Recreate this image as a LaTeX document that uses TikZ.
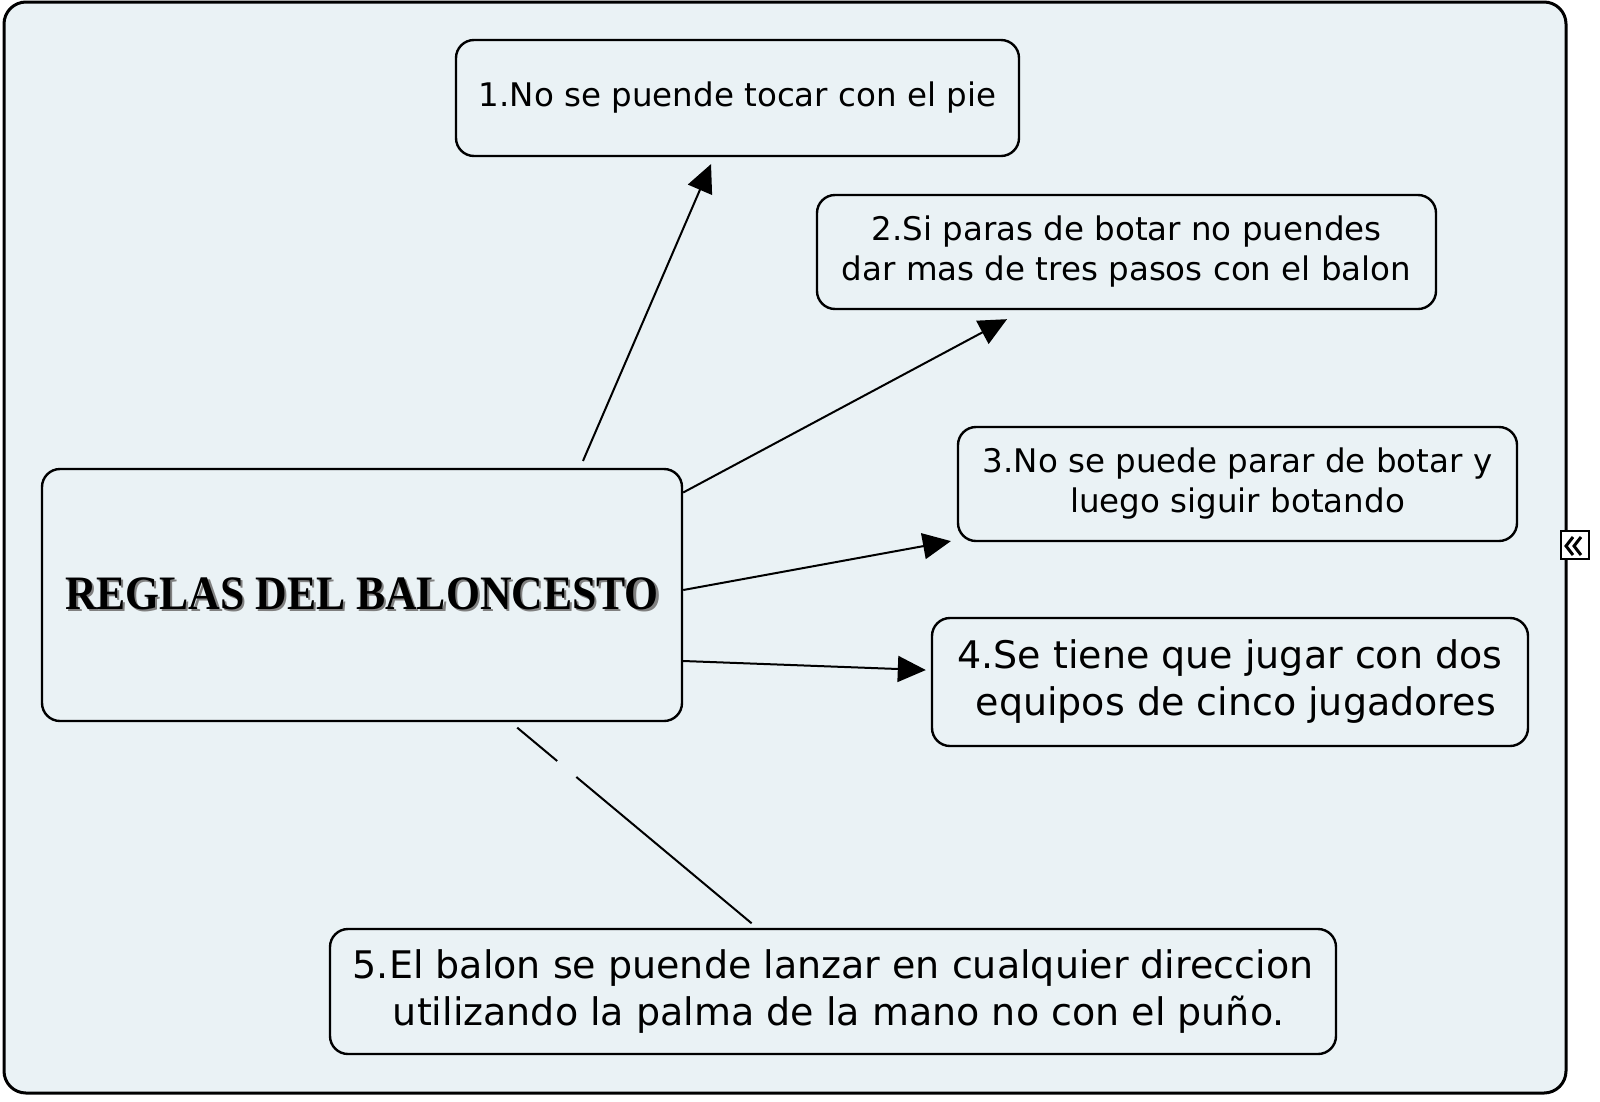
\documentclass[tikz,border=0pt]{standalone}
\usepackage{fontspec}
\setmainfont{DejaVu Sans}
\newfontfamily\titlefont{Liberation Serif}
\usepackage{graphicx}
\usetikzlibrary{arrows.meta,calc}
\definecolor{bgc}{RGB}{234,242,245}
\newcommand{\shadowtext}[1]{\makebox[0pt][l]{\raisebox{-2.5pt}{\hspace*{2.5pt}\textcolor{gray}{#1}}}#1}
\begin{document}
\begin{tikzpicture}[x=1pt,y=-1pt,
  box/.style={draw=black,line width=2.4pt,rounded corners=18pt,fill=bgc,align=center,inner sep=0pt},
  smalltext/.style={font=\fontsize{32.5}{40}\selectfont},
  largetext/.style={font=\fontsize{38}{47}\selectfont},
  arr/.style={line width=2pt,-{Triangle[length=28pt,width=26pt]}},
  link/.style={line width=2pt}
]
\useasboundingbox (0,0) rectangle (1600,1101);
\fill[white] (0,0) rectangle (1600,1101);
\draw[line width=3pt,rounded corners=22pt,fill=bgc] (4,2) rectangle (1566,1093);

\node[box,minimum width=640pt,minimum height=252pt] (c) at (362,595)
  {\scalebox{0.91}[1]{\titlefont\bfseries\fontsize{48}{50}\selectfont\shadowtext{REGLAS DEL BALONCESTO}}};

\node[box,smalltext,minimum width=563pt,minimum height=116pt] (b1) at (737.5,98)
  {1.No se puende tocar con el pie};
\node[box,smalltext,minimum width=619pt,minimum height=114pt] (b2) at (1126.5,252)
  {2.Si paras de botar no puendes\\dar mas de tres pasos con el balon};
\node[box,smalltext,minimum width=559pt,minimum height=114pt] (b3) at (1237.5,484)
  {3.No se puede parar de botar y\\luego siguir botando};
\node[box,largetext,minimum width=596pt,minimum height=128pt] (b4) at (1230,682)
  {4.Se tiene que jugar con dos\\\hspace*{0.3em}equipos de cinco jugadores};
\node[box,largetext,minimum width=1006pt,minimum height=125pt] (b5) at (833,991.5)
  {5.El balon se puende lanzar en cualquier direccion\\\hspace*{0.3em}utilizando la palma de la mano no con el puño.};

\draw[arr,shorten <=7.5pt,shorten >=7.5pt] ([xshift=218pt]c.north) -- ([xshift=-23.5pt]b1.south);
\draw[arr,shorten >=19pt] ([yshift=102.5pt]c.east) -- ([xshift=-102.7pt]b2.south);
\draw[arr,shorten >=6pt] ([yshift=5pt]c.east) -- ([yshift=-56pt]b3.west);
\draw[arr,shorten >=5pt] ([yshift=-66pt]c.east) -- ([yshift=11.8pt]b4.west);
\draw[link,shorten <=8.5pt,shorten >=7pt,dash pattern=on 52pt off 25pt on 400pt] ([xshift=148.7pt]c.south) -- ([xshift=-76pt]b5.north);

\node[draw=black,fill=white,line width=1.5pt,minimum size=28pt,inner sep=0pt] (icon) at (1575,545) {};
\draw[line width=3pt,line join=miter] ($(icon)+(-2,-8)$) -- ($(icon)+(-9,1)$) -- ($(icon)+(-2,10)$);
\draw[line width=3pt,line join=miter] ($(icon)+(6,-8)$) -- ($(icon)+(-1,1)$) -- ($(icon)+(6,10)$);
\end{tikzpicture}
\end{document}
